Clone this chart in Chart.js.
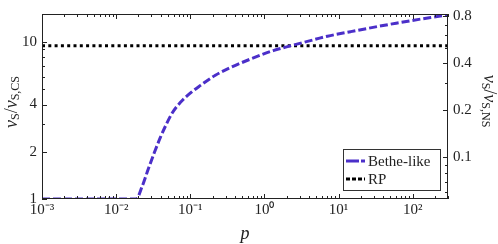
<!DOCTYPE html>
<html lang="en">
<head>
    <meta charset="UTF-8"/>
    <title>Bethe-like vs RP</title>
    <script src="https://cdn.jsdelivr.net/npm/chart.js@4.4.1/dist/chart.umd.min.js"></script>
    <style>
        html, body { margin: 0; padding: 0; background: #fff; }
    </style>
</head>
<body>

<canvas id="chart" width="498" height="244"></canvas>

<script>
    // values
    const pValues = [0.001, 0.005, 0.012, 0.0186, 0.0224, 0.0270, 0.0327, 0.0394, 0.0475, 0.0571, 0.0733, 0.100, 0.136, 0.218, 0.348, 0.647, 1.32, 2.24, 3.81, 7.10, 14.5, 60, 300];
    const betheLike = [1, 1, 1, 1, 1.20, 1.54, 1.97, 2.46, 2.99, 3.53, 4.12, 4.73, 5.28, 6.15, 6.88, 7.79, 8.83, 9.46, 10.1, 10.9, 11.65, 13.2, 14.95];
    const rpP = [0.001, 300];
    const rpLevel = [9.46, 9.46];

    const xTicks = [0.001, 0.01, 0.1, 1, 10, 100];
    const xTickLabels = ['10⁻³', '10⁻²', '10⁻¹', '10⁰', '10¹', '10²'];
    const leftTicks = [1, 2, 4, 10];
    const leftMinor = [3, 5, 6, 7, 8, 9];
    const rightTicks = [0.1, 0.2, 0.4, 0.8];
    const rightMinor = [0.06, 0.07, 0.08, 0.09, 0.3, 0.5, 0.6, 0.7];

    const serif = "'Liberation Serif'";
    const ink = '#222';

    function setTicks(values) {
        return scale => {
            scale.ticks = values.map(v => ({value: v}));
        };
    }

    // frame, inward tick marks, axis titles and legend
    const decorations = {
        id: 'decorations',
        afterDraw(chart) {
            const ctx = chart.ctx;
            const a = chart.chartArea;
            const sx = chart.scales.x, sy = chart.scales.y, sy2 = chart.scales.y2;
            ctx.save();
            ctx.strokeStyle = ink;
            ctx.lineWidth = 1;
            ctx.setLineDash([]);
            ctx.strokeRect(a.left + 0.5, a.top + 0.5, a.right - a.left - 1, a.bottom - a.top - 1);

            const xMinor = [];
            for (let d = 0.001; d < 300; d *= 10) {
                for (let k = 2; k <= 9; k++) {
                    if (k * d <= 300) xMinor.push(k * d);
                }
            }
            ctx.beginPath();
            const xt = (v, len) => {
                const px = Math.round(sx.getPixelForValue(v)) + 0.5;
                ctx.moveTo(px, a.bottom); ctx.lineTo(px, a.bottom - len);
                ctx.moveTo(px, a.top); ctx.lineTo(px, a.top + len);
            };
            xTicks.forEach(v => xt(v, 5));
            xMinor.forEach(v => xt(v, 3));
            const yl = (v, len) => {
                const py = Math.round(sy.getPixelForValue(v)) + 0.5;
                ctx.moveTo(a.left, py); ctx.lineTo(a.left + len, py);
            };
            leftTicks.forEach(v => yl(v, 5));
            leftMinor.forEach(v => yl(v, 3));
            const yr = (v, len) => {
                const py = Math.round(sy2.getPixelForValue(v)) + 0.5;
                ctx.moveTo(a.right, py); ctx.lineTo(a.right - len, py);
            };
            rightTicks.forEach(v => yr(v, 5));
            rightMinor.forEach(v => yr(v, 3));
            ctx.stroke();

            // axis titles
            ctx.fillStyle = ink;
            const leftTitle = [['ν', 18, true, 0], ['S', 12, false, 4], ['/', 18, false, 0], ['ν', 18, true, 0], ['S,CS', 12, false, 4]];
            const rightTitle = [['ν', 18, true, 0], ['S', 12, false, 4], ['/', 18, false, 0], ['ν', 18, true, 0], ['S,NS', 12, false, 4]];
            drawRich(ctx, leftTitle, 12, 102, -Math.PI / 2);
            drawRich(ctx, rightTitle, 489, 101, Math.PI / 2);
            drawRich(ctx, [['p', 18, true, 0]], 245, 234, 0);

            // legend
            const bw = 97, bh = 41;
            const bx = Math.round(a.right - 8 - bw), by = Math.round(a.bottom - 9 - bh);
            ctx.fillStyle = '#fff';
            ctx.fillRect(bx, by, bw, bh);
            ctx.strokeStyle = '#333';
            ctx.lineWidth = 1;
            ctx.strokeRect(bx + 0.5, by + 0.5, bw, bh);
            chart.data.datasets.forEach((ds, i) => {
                const cy = by + 12 + i * 18;
                ctx.strokeStyle = ds.borderColor;
                ctx.lineWidth = ds.borderWidth;
                ctx.setLineDash(ds.legendDash);
                ctx.beginPath();
                ctx.moveTo(bx + 3, cy);
                ctx.lineTo(bx + 22, cy);
                ctx.stroke();
                ctx.setLineDash([]);
                ctx.fillStyle = ink;
                ctx.font = '15px ' + serif;
                ctx.textBaseline = 'middle';
                ctx.textAlign = 'left';
                ctx.fillText(ds.label, bx + 25, cy + 1);
            });
            ctx.restore();
        }
    };

    function drawRich(ctx, parts, cx, cy, angle) {
        let w = 0;
        parts.forEach(p => {
            ctx.font = (p[2] ? 'italic ' : '') + p[1] + 'px ' + serif;
            w += ctx.measureText(p[0]).width;
        });
        ctx.save();
        ctx.translate(cx, cy);
        ctx.rotate(angle);
        ctx.textAlign = 'left';
        ctx.textBaseline = 'middle';
        let x = -w / 2;
        parts.forEach(p => {
            ctx.font = (p[2] ? 'italic ' : '') + p[1] + 'px ' + serif;
            ctx.fillText(p[0], x, p[3]);
            x += ctx.measureText(p[0]).width;
        });
        ctx.restore();
    }

    const ctx = document.getElementById('chart').getContext('2d');
    const myChart = new Chart(ctx, {
        type: 'line',
        data: {
            datasets: [
                {
                    label: 'Bethe-like',
                    data: pValues.map((p, i) => ({x: p, y: betheLike[i]})),
                    borderColor: '#4b2fc9',
                    borderWidth: 3,
                    borderDash: [8, 3],
                    legendDash: [13, 2, 4, 10],
                    pointRadius: 0,
                    cubicInterpolationMode: 'monotone',
                    yAxisID: 'y'
                },
                {
                    label: 'RP',
                    data: rpP.map((p, i) => ({x: p, y: rpLevel[i]})),
                    borderColor: '#000',
                    borderWidth: 3,
                    borderDash: [3, 3.3],
                    legendDash: [4, 2],
                    pointRadius: 0,
                    yAxisID: 'y'
                }
            ]
        },
        options: {
            responsive: false,
            animation: false,
            devicePixelRatio: 1,
            layout: {padding: {top: 3, left: 0, right: 0, bottom: 0}},
            scales: {
                x: {
                    type: 'logarithmic',
                    min: 0.001,
                    max: 300,
                    afterBuildTicks: setTicks(xTicks),
                    afterFit: scale => { scale.height = 45; },
                    grid: {display: false, drawTicks: false},
                    border: {display: false},
                    ticks: {
                        autoSkip: false,
                        maxRotation: 0,
                        padding: 2,
                        color: ink,
                        font: {family: serif, size: 15},
                        callback: (v) => xTickLabels[xTicks.indexOf(v)]
                    }
                },
                y: {
                    type: 'logarithmic',
                    position: 'left',
                    min: 1,
                    max: 15.1,
                    afterBuildTicks: setTicks(leftTicks),
                    afterFit: scale => { scale.width = 42; },
                    grid: {display: false, drawTicks: false},
                    border: {display: false},
                    ticks: {
                        autoSkip: false,
                        padding: 5,
                        color: ink,
                        font: {family: serif, size: 15},
                        callback: v => String(v)
                    }
                },
                y2: {
                    type: 'logarithmic',
                    position: 'right',
                    min: 0.0543,
                    max: 0.82,
                    afterBuildTicks: setTicks(rightTicks),
                    afterFit: scale => { scale.width = 50; },
                    grid: {display: false, drawTicks: false},
                    border: {display: false},
                    ticks: {
                        autoSkip: false,
                        padding: 5,
                        color: ink,
                        font: {family: serif, size: 15},
                        callback: v => String(v)
                    }
                }
            },
            plugins: {
                legend: {display: false},
                tooltip: {enabled: false}
            }
        },
        plugins: [decorations]
    });
</script>

</body>
</html>
